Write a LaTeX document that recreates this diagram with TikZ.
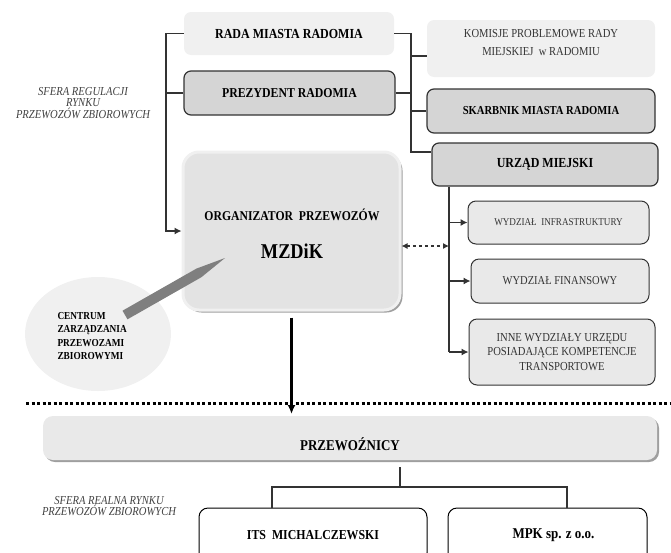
\documentclass[tikz,border=0pt]{standalone}
\usepackage{fontspec}
\usepackage{graphicx}
\setmainfont{Liberation Serif}
\usetikzlibrary{arrows.meta,shapes.geometric,shadows}
\definecolor{linegray}{HTML}{333333}
\definecolor{palegray}{HTML}{F0F0F0}
\definecolor{midgray}{HTML}{D5D5D5}
\definecolor{softgray}{HTML}{E9E9E9}
\definecolor{mzgray}{HTML}{E3E3E3}
\definecolor{pengray}{HTML}{7F7F7F}
\newcommand{\setfs}[2]{\fontsize{#1}{#2}\selectfont}
\newcommand{\tall}[1]{\scalebox{1}[1.15]{#1}}
\begin{document}
\begin{tikzpicture}[x=1pt,y=-1pt,
  palebox/.style={fill=palegray,rounded corners=7,inner sep=0},
  greybox/.style={fill=midgray,draw=linegray,line width=1.2,rounded corners=7,inner sep=0},
  deptbox/.style={fill=softgray,draw=linegray,line width=1,rounded corners=8,inner sep=0},
  firmbox/.style={fill=white,draw=black,line width=1,rounded corners=9,inner sep=0},
  boldtxt/.style={font=\bfseries\setfs{#1}{#1}},
  plaintxt/.style={font=\setfs{#1}{#1},text=black!80},
  sfera/.style={font=\itshape\setfs{10.6}{11.5},align=center,text=black!75},
  link/.style={draw=linegray,line width=1.1},
  arr/.style={link,-{Latex[length=7,width=7]}}]
\useasboundingbox (0,0) rectangle (671,552);
% sfera regulacji
\node[sfera] (sferareg) at (83,103) {\tall{SFERA REGULACJI}\\\tall{RYNKU}\\\tall{PRZEWOZÓW ZBIOROWYCH}};
\node[palebox,boldtxt=12,minimum width=210,minimum height=43] (rada) at (289,33.5) {\tall{RADA MIASTA RADOMIA}};
\node[greybox,boldtxt=11.8,minimum width=211,minimum height=44] (prezydent) at (289.5,93) {\tall{PREZYDENT RADOMIA}};
\node[palebox,minimum width=228,minimum height=57] (komisje) at (541,48.5) {};
\node[font=\setfs{10.6}{18},text=black!80,align=center] (komisjetxt) at (541,43) {\tall{KOMISJE PROBLEMOWE RADY}\\\tall{MIEJSKIEJ~~w RADOMIU}};
\node[greybox,boldtxt=10.6,minimum width=228,minimum height=44] (skarbnik) at (541,111) {\tall{SKARBNIK MIASTA RADOMIA}};
\node[greybox,boldtxt=12,minimum width=226,minimum height=43] (urzad) at (545,164.5) {\tall{URZĄD MIEJSKI}};
% wydzialy
\node[deptbox,plaintxt=9.1,minimum width=181,minimum height=43] (wydz1) at (558.5,222.5) {\tall{WYDZIAŁ~~INFRASTRUKTURY}};
\node[deptbox,plaintxt=10.5,minimum width=178,minimum height=44] (wydz2) at (560,281) {\tall{WYDZIAŁ FINANSOWY}};
\node[deptbox,font=\setfs{10.6}{14.5},text=black!80,minimum width=186,minimum height=66,align=center] (wydz3) at (562,352) {\tall{INNE WYDZIAŁY URZĘDU}\\\tall{POSIADAJĄCE KOMPETENCJE}\\\tall{TRANSPORTOWE}};
% centrum i organizator
\node[ellipse,fill=palegray,minimum width=146,minimum height=114] (centrum) at (98,334) {};
\node[draw=palegray,line width=3,fill=mzgray,rounded corners=16,minimum width=217,minimum height=158,
  drop shadow={shadow xshift=2.5pt,shadow yshift=-2.5pt,fill=black!75}] (mzdik) at (291.5,231) {};
\fill[pengray] (122.5,310.7) -- (196.4,268.6) -- (225,258) -- (201.4,277.2) -- (127.5,319.3) -- cycle;
\node[boldtxt=11.7] (orgtxt) at (292,215) {\tall{ORGANIZATOR~~PRZEWOZÓW}};
\node[boldtxt=18.3] (mzdiktxt) at (292,251) {\tall{MZDiK}};
\node[font=\bfseries\setfs{9.3}{13.5},align=left,anchor=west] (centrumtxt) at (54,336) {\tall{CENTRUM}\\\tall{ZARZĄDZANIA}\\\tall{PRZEWOZAMI}\\\tall{ZBIOROWYMI}};
% polaczenia
\coordinate (lbx) at (166,0);
\coordinate (rbx) at (411,0);
\coordinate (ubx) at (449,0);
\coordinate (urzadin) at ([yshift=12.5]urzad.west);
\coordinate (komisjein) at ([yshift=-7.5]komisje.west);
\draw[arr] (rada.west) -| (lbx |- mzdik.west) -- (mzdik.west);
\draw[link] (prezydent.west) -- (prezydent.west -| lbx);
\draw[link] (rada.east) -| (rbx |- urzadin) -- (urzadin);
\draw[link] (komisjein -| rbx) -- (komisjein);
\draw[link] (prezydent.east) -- (prezydent.east -| rbx);
\draw[link] (skarbnik.west -| rbx) -- (skarbnik.west);
\draw[link] (urzad.south -| ubx) -- (ubx |- wydz3.west);
\draw[arr] (ubx |- wydz1.west) -- (wydz1.west);
\draw[arr] (ubx |- wydz2.west) -- (wydz2.west);
\draw[arr] (ubx |- wydz3.west) -- (wydz3.west);
\coordinate (dsh) at (449,246);
\draw[link,dashed,{Latex[length=6,width=6]}-{Latex[length=6,width=6]}] (dsh -| mzdik.east) -- (dsh);
% granica sfer
\coordinate (dotl) at (26,403);
\coordinate (dotr) at (671,403);
\draw[line width=3,dash pattern=on 3pt off 2.5pt] (dotl) -- (dotr);
% sfera realna
\node[fill=softgray,rounded corners=10,minimum width=614,minimum height=44,
  drop shadow={shadow xshift=2pt,shadow yshift=-2pt,fill=black!75}] (przewoznicy) at (350,438) {};
\node[boldtxt=13] (przewoznicytxt) at (350,444) {\tall{PRZEWOŹNICY}};
\coordinate (downend) at (293,414);
\draw[line width=2.2,-{Latex[length=9,width=8]}] ([yshift=-6]mzdik.south) -- (mzdik.south |- downend);
\node[sfera] (sferareal) at (109,506) {\tall{SFERA REALNA RYNKU}\\\tall{PRZEWOZÓW ZBIOROWYCH}};
\node[firmbox,boldtxt=11.9,minimum width=228,minimum height=54] (its) at (313,535) {\tall{ITS~~MICHALCZEWSKI}};
\node[firmbox,boldtxt=13,minimum width=199,minimum height=54] (mpk) at (547.5,535) {\hspace*{12pt}\tall{MPK sp. z o.o.}};
\coordinate (tjtop) at (400,467);
\coordinate (tj) at (400,487);
\coordinate (tl) at (272,487);
\coordinate (tr) at (567,487);
\draw[link] (tjtop) -- (tj);
\draw[link] (tl |- its.north) -- (tl) -- (tr) -- (tr |- mpk.north);
\end{tikzpicture}
\end{document}
